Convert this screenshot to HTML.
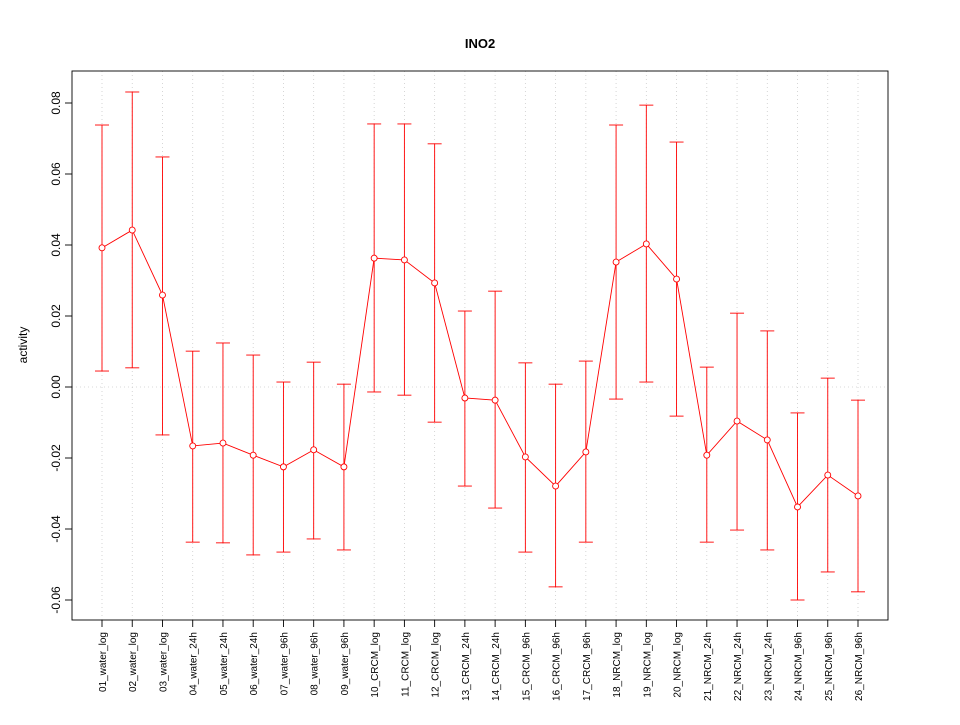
<!DOCTYPE html>
<html><head><meta charset="utf-8"><style>
body{margin:0;background:#fff}
svg text{font-family:"Liberation Sans",sans-serif;fill:#000}
</style></head><body>
<svg id="chart" width="960" height="720"></svg>
<script>
const categories=["01_water_log","02_water_log","03_water_log","04_water_24h","05_water_24h","06_water_24h","07_water_96h","08_water_96h","09_water_96h","10_CRCM_log","11_CRCM_log","12_CRCM_log","13_CRCM_24h","14_CRCM_24h","15_CRCM_96h","16_CRCM_96h","17_CRCM_96h","18_NRCM_log","19_NRCM_log","20_NRCM_log","21_NRCM_24h","22_NRCM_24h","23_NRCM_24h","24_NRCM_96h","25_NRCM_96h","26_NRCM_96h"];
const values=[0.0392,0.0442,0.0259,-0.0166,-0.0158,-0.0192,-0.0225,-0.0177,-0.0225,0.0363,0.0358,0.0293,-0.0031,-0.0037,-0.0197,-0.0279,-0.0183,0.0352,0.0403,0.0304,-0.0192,-0.0096,-0.0149,-0.0338,-0.0248,-0.0307];
const upper=[0.0738,0.0831,0.0648,0.0101,0.0124,0.009,0.0014,0.007,0.0008,0.0741,0.0741,0.0685,0.0214,0.027,0.0068,0.0008,0.0073,0.0738,0.0794,0.069,0.0056,0.0208,0.0158,-0.0073,0.0025,-0.0037];
const lower=[0.0045,0.0054,-0.0135,-0.0437,-0.0439,-0.0473,-0.0465,-0.0428,-0.0459,-0.0014,-0.0023,-0.0099,-0.0279,-0.0341,-0.0465,-0.0563,-0.0437,-0.0034,0.0014,-0.0082,-0.0437,-0.0403,-0.0459,-0.06,-0.0521,-0.0577];
const yTicks=[-0.06,-0.04,-0.02,0.00,0.02,0.04,0.06,0.08];
const yTickLabels=["-0.06","-0.04","-0.02","0.00","0.02","0.04","0.06","0.08"];

const svg=document.getElementById('chart');
const NS='http://www.w3.org/2000/svg';
const L=72,R=888,T=71,B=620;
const yv=v=>387-v*3550;
const xi=i=>102+i*(858-102)/(categories.length-1);
function mk(tag,attrs,parent){const e=document.createElementNS(NS,tag);for(const k in attrs)e.setAttribute(k,attrs[k]);(parent||svg).appendChild(e);return e;}

const t=mk('text',{x:480,y:48,'text-anchor':'middle','font-size':13,'font-weight':'bold'});t.textContent='INO2';


const yt=mk('text',{transform:'translate(27,345) rotate(-90)','text-anchor':'middle','font-size':12});yt.textContent='activity';



categories.forEach((c,i)=>{
  const g=mk('line',{x1:xi(i),x2:xi(i),y1:T,y2:B,stroke:'#ccc','stroke-width':0.8,'stroke-dasharray':'1,3'});
  
  
  const tk=mk('line',{x1:xi(i),x2:xi(i),y1:B,y2:B+7,stroke:'#000','stroke-width':0.9});
  
  
  const lb=mk('text',{transform:`translate(${xi(i)+4},${B+12}) rotate(-90)`,'text-anchor':'end','font-size':10});lb.textContent=c;
  
  
});
const g0=mk('line',{x1:L,x2:R,y1:yv(0),y2:yv(0),stroke:'#ccc','stroke-width':0.8,'stroke-dasharray':'1,3'});



yTicks.forEach((v,i)=>{
  const tk=mk('line',{x1:L-7,x2:L,y1:yv(v),y2:yv(v),stroke:'#000','stroke-width':0.9});
  
  
  const lb=mk('text',{transform:`translate(${L-12},${yv(v)}) rotate(-90)`,'text-anchor':'middle','font-size':12});lb.textContent=yTickLabels[i];
  
  
});

const box=mk('rect',{x:L,y:T,width:R-L,height:B-T,fill:'none',stroke:'#000','stroke-width':0.9});



values.forEach((v,i)=>{
  const x=xi(i);
  const e=mk('line',{x1:x,x2:x,y1:yv(upper[i]),y2:yv(lower[i]),stroke:'red','stroke-width':0.9});
  
  
  [upper[i],lower[i]].forEach(w=>{
    const cap=mk('line',{x1:x-7,x2:x+7,y1:yv(w),y2:yv(w),stroke:'red','stroke-width':0.9});
    
    
  });
});
const pl=mk('polyline',{points:values.map((v,i)=>xi(i)+','+yv(v)).join(' '),fill:'none',stroke:'red','stroke-width':0.9});


values.forEach((v,i)=>{
  const c=mk('circle',{cx:xi(i),cy:yv(v),r:3,fill:'#fff',stroke:'red','stroke-width':0.9});
  
  
});
</script>
</body></html>
